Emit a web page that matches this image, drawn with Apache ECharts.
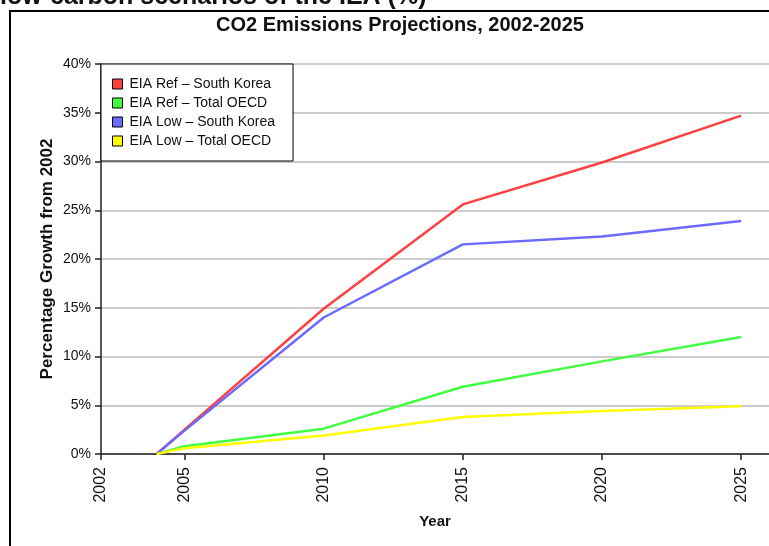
<!DOCTYPE html>
<html>
<head>
<meta charset="utf-8">
<script src="https://cdn.jsdelivr.net/npm/echarts@6/dist/echarts.min.js"></script>
<style>
html,body{margin:0;padding:0;background:#fff;}
#c{width:769px;height:546px;}
</style>
</head>
<body>
<div id="c"></div>
<script>
var years = [2004, 2005, 2010, 2015, 2020, 2025];
var refKorea = [0, 2.5, 14.9, 25.6, 29.9, 34.7];
var refOECD = [0, 0.8, 2.6, 6.9, 9.5, 12.0];
var lowKorea = [0, 2.4, 14.0, 21.5, 22.3, 23.9];
var lowOECD = [0, 0.6, 1.9, 3.8, 4.4, 4.9];
var xTickLabels = [2002, 2005, 2010, 2015, 2020, 2025];
var seriesNames = ['EIA Ref \u2013 South Korea', 'EIA Ref \u2013 Total OECD', 'EIA Low \u2013 South Korea', 'EIA Low \u2013 Total OECD'];
var seriesColors = ['#ff4040', '#40ff40', '#6a6aff', '#ffff00'];

function pairs(vals){ return years.map(function(y,i){ return [y, vals[i]]; }); }
var allVals = [refKorea, refOECD, lowKorea, lowOECD];

var chart = echarts.init(document.getElementById('c'));
var font = 'Liberation Sans';
chart.setOption({
  animation: false,
  backgroundColor: '#fff',
  title: {
    text: 'CO2 Emissions Projections, 2002-2025',
    left: 395, top: 10, textAlign: 'center',
    textStyle: {fontFamily: font, fontWeight: 'bold', fontSize: 20, color: '#111'}
  },
  graphic: [
    {type: 'rect', shape: {x: 10, y: 11, width: 820, height: 600}, style: {fill: 'none', stroke: '#000', lineWidth: 2}, z: 100},
    {type: 'text', left: 0, top: -15, style: {text: 'low-carbon scenarios of the IEA (%)', font: 'bold 25px "Liberation Sans"', fill: '#111'}}
  ],
  legend: {
    orient: 'vertical', left: 101, top: 64,
    icon: 'rect', itemWidth: 10, itemHeight: 10, itemGap: 5,
    padding: [13, 18, 13, 11],
    backgroundColor: '#fff', borderColor: '#000', borderWidth: 1,
    itemStyle: {borderColor: '#000', borderWidth: 1},
    textStyle: {fontFamily: font, fontSize: 14, color: '#111', lineHeight: 12, padding: [0, 0, 0, 2]},
    data: seriesNames
  },
  grid: {left: 101, right: -1, top: 64, bottom: 92, containLabel: false},
  xAxis: {
    type: 'value', min: 2002, max: 2026,
    name: 'Year', nameLocation: 'middle', nameGap: 60, nameMoveOverlap: false,
    nameTextStyle: {fontFamily: font, fontWeight: 'bold', fontSize: 15, color: '#111'},
    axisLine: {show: true, lineStyle: {color: '#222', width: 1.5}},
    axisTick: {show: true, customValues: xTickLabels, length: 6, lineStyle: {color: '#222', width: 1.5}},
    axisLabel: {customValues: xTickLabels, formatter: function(v){ return String(v); }, rotate: 90, margin: 13, fontFamily: font, fontSize: 16, color: '#111'},
    splitLine: {show: false}
  },
  yAxis: {
    type: 'value', min: 0, max: 40, interval: 5,
    name: 'Percentage Growth from 2002', nameLocation: 'middle', nameGap: 45, nameMoveOverlap: false,
    nameTextStyle: {fontFamily: font, fontWeight: 'bold', fontSize: 17, color: '#111'},
    axisLine: {show: true, lineStyle: {color: '#222', width: 1.5}},
    axisTick: {show: true, length: 6, lineStyle: {color: '#222', width: 1.5}},
    axisLabel: {formatter: '{value}%', margin: 10, fontFamily: font, fontSize: 14, color: '#111'},
    splitLine: {show: true, lineStyle: {color: '#cccccc', width: 2}}
  },
  series: seriesNames.map(function(n, i){
    return {
      name: n, type: 'line', data: pairs(allVals[i]),
      symbol: 'none', color: seriesColors[i],
      lineStyle: {width: 2.5, color: seriesColors[i]}
    };
  })
});
</script>
</body>
</html>
